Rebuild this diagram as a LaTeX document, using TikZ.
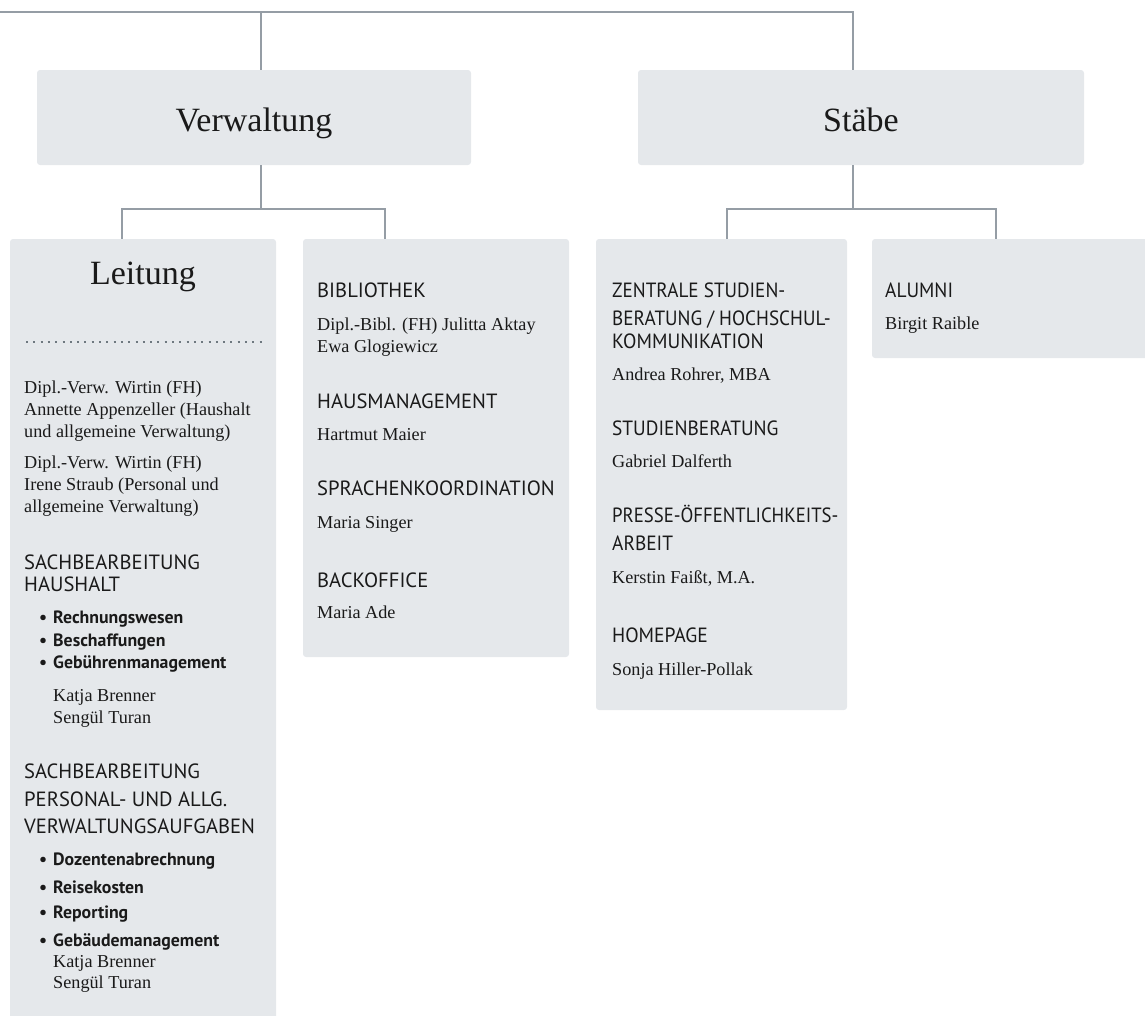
\documentclass[tikz,border=0pt]{standalone}
\usepackage{fontspec}
\setmainfont{Liberation Serif}
\newfontfamily\hsans{PT Sans}
\usetikzlibrary{calc}
\definecolor{boxfill}{HTML}{E5E8EB}
\definecolor{linec}{HTML}{959DA5}
\definecolor{dotc}{HTML}{6E787F}
\definecolor{txt}{HTML}{1A1A1A}
\newcommand{\sq}[2]{\scalebox{#1}[1]{#2}}
\begin{document}
\begin{tikzpicture}[x=1pt,y=-1pt,
  box/.style={fill=boxfill, rounded corners=3pt, inner sep=0pt},
  conn/.style={draw=linec, line width=1.4pt},
  ttl/.style={font=\fontsize{34}{40}\selectfont, text=txt, inner sep=0pt, anchor=base},
  hd/.style={font=\hsans\fontsize{20.6}{22}\selectfont, anchor=base west, inner sep=0pt, text=txt},
  nm/.style={font=\fontsize{18.2}{22}\selectfont, anchor=base west, inner sep=0pt, text=txt},
  bl/.style={font=\hsans\bfseries\fontsize{17.8}{22}\selectfont, anchor=base west, inner sep=0pt, text=txt},
]
\useasboundingbox (0,0) rectangle (1145,1015);
% boxes
\node[box, minimum width=434, minimum height=95] (verw) at (254,117.5) {};
\node[box, minimum width=446, minimum height=95] (staebe) at (861,117.5) {};
\node[box, minimum width=266, minimum height=791] (leit) at (143,634.5) {};
\node[box, minimum width=266, minimum height=418] (bib) at (436,448) {};
\node[box, minimum width=251, minimum height=471] (zen) at (721.5,474.5) {};
\node[box, minimum width=288, minimum height=119] (alu) at (1016,298.5) {};
% connectors
\coordinate (t0) at (0,12);
\coordinate (tj) at (261,12);
\coordinate (vj) at (261,209);
\coordinate (sj) at (853,209);
\draw[conn] (t0) -| (staebe.north -| sj);
\draw[conn] (tj) -- (verw.north -| tj);
\draw[conn] (verw.south -| vj) -- (vj);
\draw[conn] (leit.north -| 122,0) |- (vj) -| (bib.north -| 385,0);
\draw[conn] (staebe.south -| sj) -- (sj);
\draw[conn] (zen.north -| 727,0) |- (sj) -| (alu.north -| 996,0);
% titles
\node[ttl] (tverw) at (254,131) {Verwaltung};
\node[ttl] (tstaebe) at (861,131) {Stäbe};
\node[ttl] (tleit) at (143,284) {Leitung};
% dotted separator
\coordinate (d1) at (26,342);
\coordinate (d2) at (263,342);
\draw[dotc, line width=2pt, dash pattern=on 2pt off 5.3pt] (d1) -- (d2);
% Leitung column
\node[nm] (l1) at (24,393) {Dipl.-Verw. Wirtin (FH)};
\node[nm] (l2) at (24,415) {Annette Appenzeller (Haushalt};
\node[nm] (l3) at (24,437) {und allgemeine Verwaltung)};
\node[nm] (l4) at (24,468) {Dipl.-Verw. Wirtin (FH)};
\node[nm] (l5) at (24,490) {Irene Straub (Personal und};
\node[nm] (l6) at (24,512) {allgemeine Verwaltung)};
\node[hd] (l7) at (24,569) {SACHBEARBEITUNG};
\node[hd] (l8) at (24,591) {HAUSHALT};
\node[bl] (l9) at (39,623) {\makebox[14pt][l]{•}Rechnungswesen};
\node[bl] (l10) at (39,646) {\makebox[14pt][l]{•}Beschaffungen};
\node[bl] (l11) at (39,668) {\makebox[14pt][l]{•}Gebührenmanagement};
\node[nm] (l12) at (53,701) {Katja Brenner};
\node[nm] (l13) at (53,723) {Sengül Turan};
\node[hd] (l14) at (24,778) {SACHBEARBEITUNG};
\node[hd] (l15) at (24,806) {PERSONAL- UND ALLG.};
\node[hd] (l16) at (24,833) {VERWALTUNGSAUFGABEN};
\node[bl] (l17) at (39,865) {\makebox[14pt][l]{•}Dozentenabrechnung};
\node[bl] (l18) at (39,893) {\makebox[14pt][l]{•}Reisekosten};
\node[bl] (l19) at (39,918) {\makebox[14pt][l]{•}Reporting};
\node[bl] (l20) at (39,946) {\makebox[14pt][l]{•}Gebäudemanagement};
\node[nm] (l21) at (53,967) {Katja Brenner};
\node[nm] (l22) at (53,988) {Sengül Turan};
% Bibliothek column
\node[hd] (b1) at (317,297) {BIBLIOTHEK};
\node[nm] (b2) at (317,330) {Dipl.-Bibl. (FH) Julitta Aktay};
\node[nm] (b3) at (317,352) {Ewa Glogiewicz};
\node[hd] (b4) at (317,408) {HAUSMANAGEMENT};
\node[nm] (b5) at (317,440) {Hartmut Maier};
\node[hd] (b6) at (317,495) {SPRACHENKOORDINATION};
\node[nm] (b7) at (317,528) {Maria Singer};
\node[hd] (b8) at (317,587) {BACKOFFICE};
\node[nm] (b9) at (317,618) {Maria Ade};
% Zentrale column
\node[hd] (z1) at (612,297) {\sq{0.93}{ZENTRALE STUDIEN-}};
\node[hd] (z2) at (612,325) {\sq{0.93}{BERATUNG / HOCHSCHUL-}};
\node[hd] (z3) at (612,348) {\sq{0.95}{KOMMUNIKATION}};
\node[nm] (z4) at (612,380) {Andrea Rohrer, MBA};
\node[hd] (z5) at (612,435) {\sq{0.94}{STUDIENBERATUNG}};
\node[nm] (z6) at (612,467) {Gabriel Dalferth};
\node[hd] (z7) at (612,522) {\sq{0.91}{PRESSE-ÖFFENTLICHKEITS-}};
\node[hd] (z8) at (612,550) {\sq{0.94}{ARBEIT}};
\node[nm] (z9) at (612,583) {Kerstin Faißt, M.A.};
\node[hd] (z10) at (612,642) {\sq{0.95}{HOMEPAGE}};
\node[nm] (z11) at (612,675) {Sonja Hiller-Pollak};
% Alumni
\node[hd] (a1) at (885,297) {\sq{0.94}{ALUMNI}};
\node[nm] (a2) at (885,329) {Birgit Raible};
\end{tikzpicture}
\end{document}
